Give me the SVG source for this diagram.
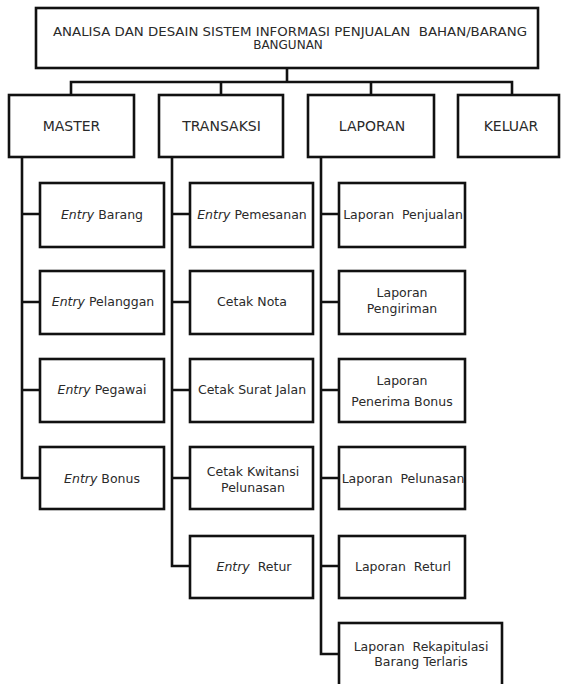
<svg xmlns="http://www.w3.org/2000/svg" width="561" height="684" viewBox="0 0 561 684">
<style>
.box{fill:#fff;stroke:#111;stroke-width:2.6}
.con{fill:none;stroke:#111;stroke-width:2.6}
text{font-family:"DejaVu Sans","Liberation Sans",sans-serif;fill:#2a2a2a;text-anchor:middle}
.t0{font-size:12px}
.t1{font-size:14px}
.t2{font-size:12.5px}
.it{font-style:italic}
</style>
<rect width="561" height="684" fill="#fff"/>
<g id="connectors">
<path class="con" d="M287,68V82M71,95V82H512V95M221,82V95M371,82V95"/>
<path class="con" d="M22,157V478H40M22,214H40M22,302H40M22,390H40"/>
<path class="con" d="M172,157V566H190M172,214H190M172,302H190M172,390H190M172,478H190"/>
<path class="con" d="M321,157V654H339M321,214H339M321,302H339M321,390H339M321,478H339M321,566H339"/>
</g>
<g id="root">
<rect class="box" x="36" y="8" width="502" height="60"/>
<text class="t0" x="290" y="36" textLength="474" lengthAdjust="spacingAndGlyphs">ANALISA DAN DESAIN SISTEM INFORMASI PENJUALAN&#160; BAHAN/BARANG</text>
<text class="t0" x="288" y="49">BANGUNAN</text>
</g>
<g id="master"><rect class="box" x="9" y="95" width="125" height="62"/><text class="t1" x="71.5" y="131">MASTER</text></g>
<g id="transaksi"><rect class="box" x="159" y="95" width="124" height="62"/><text class="t1" x="221.5" y="131">TRANSAKSI</text></g>
<g id="laporan"><rect class="box" x="308" y="95" width="126" height="62"/><text class="t1" x="372" y="131">LAPORAN</text></g>
<g id="keluar"><rect class="box" x="458" y="95" width="101" height="62"/><text class="t1" x="511" y="131">KELUAR</text></g>

<g id="entry-barang"><rect class="box" x="40" y="183" width="124" height="64"/><text class="t2" x="102" y="219"><tspan class="it">Entry</tspan> Barang</text></g>
<g id="entry-pelanggan"><rect class="box" x="40" y="271" width="124" height="63"/><text class="t2" x="103" y="306"><tspan class="it">Entry</tspan> Pelanggan</text></g>
<g id="entry-pegawai"><rect class="box" x="40" y="359" width="124" height="63"/><text class="t2" x="102" y="394"><tspan class="it">Entry</tspan> Pegawai</text></g>
<g id="entry-bonus"><rect class="box" x="40" y="447" width="124" height="62"/><text class="t2" x="102" y="483"><tspan class="it">Entry</tspan> Bonus</text></g>

<g id="entry-pemesanan"><rect class="box" x="190" y="183" width="123" height="64"/><text class="t2" x="252" y="219"><tspan class="it">Entry</tspan> Pemesanan</text></g>
<g id="cetak-nota"><rect class="box" x="190" y="271" width="123" height="63"/><text class="t2" x="252" y="306">Cetak Nota</text></g>
<g id="cetak-surat-jalan"><rect class="box" x="190" y="359" width="123" height="63"/><text class="t2" x="252" y="394">Cetak Surat Jalan</text></g>
<g id="cetak-kwitansi"><rect class="box" x="190" y="447" width="123" height="62"/><text class="t2" x="253" y="476">Cetak Kwitansi</text><text class="t2" x="253" y="492">Pelunasan</text></g>
<g id="entry-retur"><rect class="box" x="190" y="536" width="123" height="62"/><text class="t2" x="254" y="571"><tspan class="it">Entry</tspan>&#160; Retur</text></g>

<g id="laporan-penjualan"><rect class="box" x="339" y="183" width="126" height="64"/><text class="t2" x="403" y="219">Laporan&#160; Penjualan</text></g>
<g id="laporan-pengiriman"><rect class="box" x="339" y="271" width="126" height="63"/><text class="t2" x="402" y="297">Laporan</text><text class="t2" x="402" y="312.5">Pengiriman</text></g>
<g id="laporan-penerima-bonus"><rect class="box" x="339" y="359" width="126" height="63"/><text class="t2" x="402" y="385">Laporan</text><text class="t2" x="402" y="406">Penerima Bonus</text></g>
<g id="laporan-pelunasan"><rect class="box" x="339" y="447" width="126" height="62"/><text class="t2" x="403" y="483">Laporan&#160; Pelunasan</text></g>
<g id="laporan-returl"><rect class="box" x="339" y="536" width="126" height="62"/><text class="t2" x="403" y="571">Laporan&#160; Returl</text></g>
<g id="laporan-rekapitulasi"><rect class="box" x="339" y="623" width="163" height="70"/><text class="t2" x="421" y="651">Laporan&#160; Rekapitulasi</text><text class="t2" x="421" y="666">Barang Terlaris</text></g>
</svg>
